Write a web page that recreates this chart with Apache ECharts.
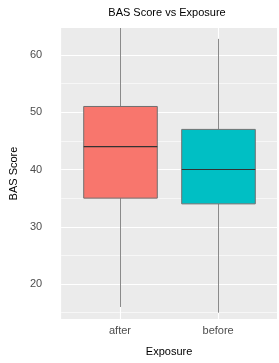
<!DOCTYPE html>
<html>
<head>
<meta charset="utf-8">
<script src="https://cdn.jsdelivr.net/npm/echarts@6/dist/echarts.min.js"></script>
<style>html,body{margin:0;padding:0;background:#fff;}#c{width:279px;height:363px;}</style>
</head>
<body>
<div id="c"></div>
<script>
var categories = ['after', 'before'];
var mins = [16, 15];
var q1s = [35, 34];
var medians = [44, 40];
var q3s = [51, 47];
var maxs = [64.7, 62.8];
var yTicks = [20, 30, 40, 50, 60];
var yMinor = [15, 25, 35, 45, 55];
var colors = ['#F8766D', '#00BFC4'];

var boxData = categories.map(function (c, i) {
  return [i + 1, mins[i], q1s[i], medians[i], q3s[i], maxs[i]];
});

var font = 'Liberation Sans, Arial, sans-serif';
var chart = echarts.init(document.getElementById('c'), null, {renderer: 'canvas'});

var gridLines = [];
yTicks.forEach(function (v) { gridLines.push({yAxis: v, lineStyle: {width: 1.1}}); });
yMinor.forEach(function (v) { gridLines.push({yAxis: v, lineStyle: {width: 0.6}}); });
categories.forEach(function (c, i) { gridLines.push({xAxis: i + 1, lineStyle: {width: 1.1}}); });

chart.setOption({
  animation: false,
  backgroundColor: '#ffffff',
  title: {
    text: 'BAS Score vs Exposure',
    left: 162, top: 2, textAlign: 'center',
    textStyle: {fontFamily: font, fontSize: 11, fontWeight: 'normal', color: '#000'}
  },
  grid: {
    left: 53.5, right: 2, top: 28, bottom: 44,
    show: true, backgroundColor: '#EBEBEB', borderWidth: 0, containLabel: false
  },
  xAxis: {
    type: 'value', min: 0.4, max: 2.6,
    name: 'Exposure', nameLocation: 'middle', nameGap: 27,
    nameTextStyle: {fontFamily: font, fontSize: 11, color: '#000'},
    axisLine: {show: false}, axisTick: {show: false}, splitLine: {show: false},
    axisLabel: {
      customValues: categories.map(function (c, i) { return i + 1; }),
      formatter: function (v) { return categories[Math.round(v) - 1] || ''; },
      fontFamily: font, fontSize: 11, color: '#4D4D4D', margin: 6
    }
  },
  yAxis: {
    type: 'value', min: 13.9, max: 64.7,
    name: 'BAS Score', nameLocation: 'middle', nameGap: 37, nameRotate: 90,
    nameTextStyle: {fontFamily: font, fontSize: 11, color: '#000'},
    axisLine: {show: false}, axisTick: {show: false}, splitLine: {show: false},
    axisLabel: {
      customValues: yTicks,
      fontFamily: font, fontSize: 11, color: '#4D4D4D', margin: 19
    }
  },
  series: [
    {
      type: 'line', data: [], z: 1, silent: true,
      markLine: {
        silent: true, symbol: 'none', label: {show: false}, z: 1,
        lineStyle: {color: '#ffffff', type: 'solid'},
        data: gridLines
      }
    },
    {
      type: 'custom', z: 10, clip: true,
      data: boxData,
      renderItem: function (params, api) {
        var x = api.value(0);
        var half = api.size([0.375, 0])[0];
        var pMin = api.coord([x, api.value(1)]);
        var pQ1 = api.coord([x, api.value(2)]);
        var pMed = api.coord([x, api.value(3)]);
        var pQ3 = api.coord([x, api.value(4)]);
        var pMax = api.coord([x, api.value(5)]);
        var cx = Math.round(pQ1[0]) + 0.5;
        var idx = params.dataIndex;
        return {
          type: 'group',
          children: [
            {type: 'line', shape: {x1: cx, y1: pMax[1], x2: cx, y2: pQ3[1]},
              style: {stroke: '#8a8a8a', lineWidth: 1}},
            {type: 'line', shape: {x1: cx, y1: pQ1[1], x2: cx, y2: pMin[1]},
              style: {stroke: '#8a8a8a', lineWidth: 1}},
            {type: 'rect', shape: {x: cx - half, y: pQ3[1], width: half * 2, height: pQ1[1] - pQ3[1]},
              style: {fill: colors[idx], stroke: '#707070', lineWidth: 1}},
            {type: 'line', shape: {x1: cx - half, y1: pMed[1], x2: cx + half, y2: pMed[1]},
              style: {stroke: '#333333', lineWidth: 1.2}}
          ]
        };
      }
    }
  ]
});
</script>
</body>
</html>
